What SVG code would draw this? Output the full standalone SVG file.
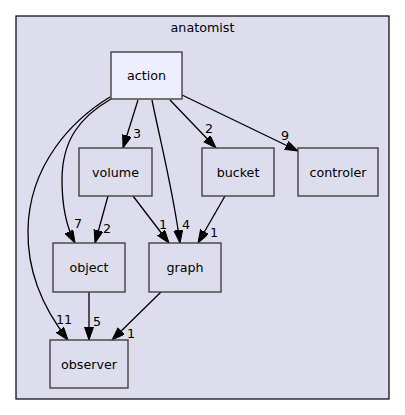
<svg xmlns="http://www.w3.org/2000/svg" width="405" height="415" viewBox="0 0 405 415">
<style>
text{font-family:"DejaVu Sans","Liberation Sans",sans-serif;font-size:12.7px;fill:#000;text-anchor:middle}
.node rect{fill:#ddddee;stroke:#404040;stroke-width:1.4}
.node.cur rect{fill:#eeeeff}
.edge path{fill:none;stroke:#000;stroke-width:1.3;marker-end:url(#ah)}
</style>
<defs>
<marker id="ah" markerUnits="userSpaceOnUse" markerWidth="14" markerHeight="10" refX="13" refY="4.5" orient="auto" viewBox="0 0 14 10">
<path d="M0,0 L13,4.5 L0,9 z" fill="#000" stroke="#000" stroke-width="1"/>
</marker>
</defs>
<rect width="405" height="415" fill="#ffffff"/>
<g id="cluster_anatomist">
<rect x="16" y="16" width="373" height="383" fill="#ddddee" stroke="#000" stroke-width="1.2"/>
<text x="202.5" y="32">anatomist</text>
</g>
<g id="edges" class="edge">
<path d="M138,100 L123,148"/>
<path d="M170,100 L216,148"/>
<path d="M182,95 L298,151"/>
<path d="M152,100 C160,140 173,190 180,243"/>
<path d="M111,99 C80,117 62,140 62,180 C62,207 67,228 75,243"/>
<path d="M110,97 C72,120 29,165 28,230 C27,275 46,312 68,340"/>
<path d="M108,196 L95,243"/>
<path d="M133,196 L169,243"/>
<path d="M225,196 L198,243"/>
<path d="M89,292 L89,340"/>
<path d="M161,292 L112,340"/>
<text x="137" y="137.5">3</text>
<text x="209" y="132.5">2</text>
<text x="285" y="139.5">9</text>
<text x="186" y="228.5">4</text>
<text x="78" y="227.5">7</text>
<text x="64" y="323.5">11</text>
<text x="107" y="232.5">2</text>
<text x="163" y="228.5">1</text>
<text x="214" y="236.5">1</text>
<text x="97" y="325.5">5</text>
<text x="131" y="337.5">1</text>
</g>
<g id="node_action" class="node cur"><rect x="111" y="52" width="71" height="47"/><text x="146.5" y="80">action</text></g>
<g id="node_volume" class="node"><rect x="79" y="148" width="73" height="48"/><text x="115.5" y="176.5">volume</text></g>
<g id="node_bucket" class="node"><rect x="202" y="148" width="72" height="48"/><text x="238" y="176.5">bucket</text></g>
<g id="node_controler" class="node"><rect x="298" y="148" width="80" height="48"/><text x="338" y="176.5">controler</text></g>
<g id="node_object" class="node"><rect x="53" y="243" width="72" height="49"/><text x="89" y="271.5">object</text></g>
<g id="node_graph" class="node"><rect x="149" y="243" width="72" height="49"/><text x="185" y="271.5">graph</text></g>
<g id="node_observer" class="node"><rect x="50" y="340" width="78" height="48"/><text x="89" y="368.5">observer</text></g>
</svg>
